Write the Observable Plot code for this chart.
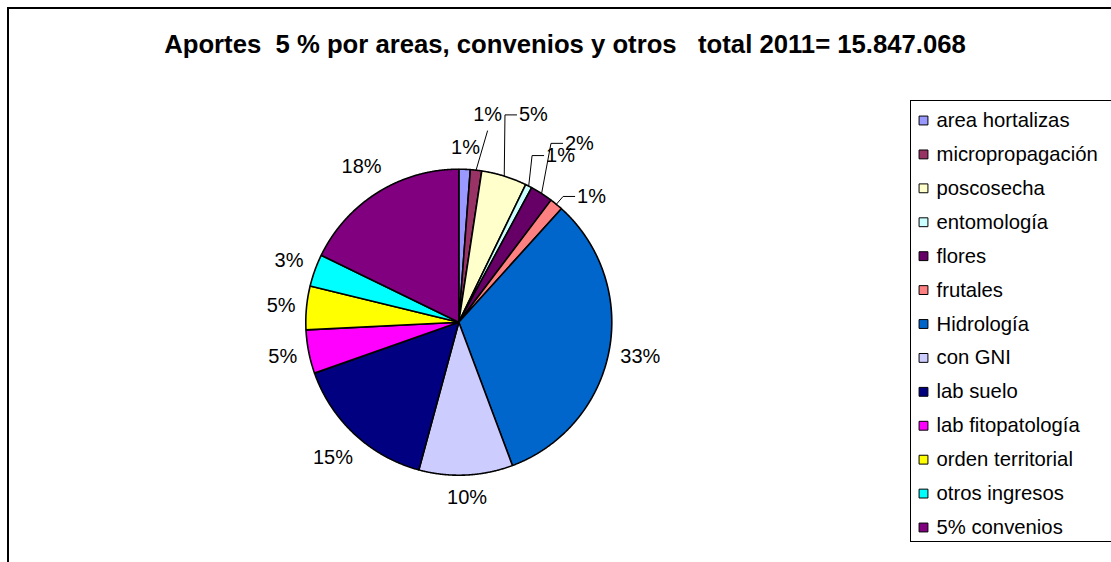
<!DOCTYPE html>
<html>
<head>
<meta charset="utf-8">
<script src="https://cdn.jsdelivr.net/npm/d3@7"></script>
<script src="https://cdn.jsdelivr.net/npm/@observablehq/plot@0.6"></script>
<style>
  html, body { margin: 0; padding: 0; background: #fff; }
  #page { position: relative; width: 1111px; height: 562px; overflow: hidden; font-family: "Liberation Sans", Arial, sans-serif; }
  #frame { position: absolute; left: 7px; top: 7px; width: 1300px; height: 800px; border-left: 2px solid #000; border-top: 2px solid #000; }
  #title { position: absolute; left: 0; top: 32px; width: 1130px; text-align: center; font-size: 25.7px; line-height: 25px; font-weight: bold; color: #000; white-space: pre; }
  #pie { position: absolute; left: 0; top: 0; }
  #legend { position: absolute; left: 910px; top: 100px; width: 240px; height: 440px; border: 1px solid #000; background: #fff; }
  #legend svg { position: absolute; left: 0; top: 0; }
</style>
</head>
<body>
<div id="page">
  <div id="frame"></div>
  <div id="pie"></div>
  <div id="title">Aportes  5 % por areas, convenios y otros   total 2011= 15.847.068</div>
  <div id="legend"></div>
</div>
<script>
// ---- data ----
const categories = ["area hortalizas", "micropropagación", "poscosecha", "entomología", "flores", "frutales", "Hidrología", "con GNI", "lab suelo", "lab fitopatología", "orden territorial", "otros ingresos", "5% convenios"];
const shares = [1.2, 1.2, 4.8, 0.7, 2.4, 1.4, 32.6, 9.9, 15.4, 4.6, 4.6, 3.4, 17.8];
const colors = ["#9999FF", "#993366", "#FFFFCC", "#CCFFFF", "#660066", "#FF8080", "#0066CC", "#CCCCFF", "#000080", "#FF00FF", "#FFFF00", "#00FFFF", "#800080"];
const titleText = "Aportes  5 % por areas, convenios y otros   total 2011= 15.847.068";

// ---- layout config (not data) ----
const W = 1111, H = 562;
const CX = 458.3, CY = 321.7, R = 153;      // pie centre and radius in px
const FONT = "Liberation Sans, Arial, sans-serif";
const LABEL_SIZE = 20;
// labels that Excel moved by hand: polar position (deg clockwise from 12 o'clock, radius factor)
const manualLabels = {
  "area hortalizas": {angle: 2.2, radius: 1.145, leader: "none"},
  "micropropagación": {angle: 7.9, radius: 1.37, leader: "below"},
  "poscosecha": {angle: 19.8, radius: 1.44, leader: "elbow"},
  "entomología": {angle: 31.4, radius: 1.276, leader: "elbow"},
  "flores": {angle: 34.0, radius: 1.41, leader: "elbow"},
  "frutales": {angle: 46.55, radius: 1.195, leader: "elbow"}
};

document.getElementById("title").textContent = titleText;

const rows = categories.map((c, i) => ({category: c, value: shares[i]}));
const total = d3.sum(rows, d => d.value);
const arcs = d3.pie().sort(null).value(d => d.value)(rows);
const fmt = d3.format(".0%");
const textW = s => (s.replace("%", "").length * 0.556 + 0.889) * LABEL_SIZE;

// slice outlines in unit coordinates (radius 1, y up)
const slicePts = [];
for (const a of arcs) {
  const c = a.data.category;
  const n = Math.max(2, Math.ceil((a.endAngle - a.startAngle) / 0.005));
  slicePts.push({category: c, u: 0, v: 0});
  for (let k = 0; k <= n; k++) {
    const t = a.startAngle + (a.endAngle - a.startAngle) * k / n;
    slicePts.push({category: c, u: Math.sin(t), v: Math.cos(t)});
  }
  slicePts.push({category: c, u: 0, v: 0});
}

// labels and leader lines
const labels = [];
const leaders = [];
for (const a of arcs) {
  const c = a.data.category;
  const text = fmt(a.data.value / total);
  const w = textW(text);
  const m = (a.startAngle + a.endAngle) / 2;
  const man = manualLabels[c];
  let u, v;
  if (man) {
    const ang = man.angle * Math.PI / 180;
    u = Math.sin(ang) * man.radius; v = Math.cos(ang) * man.radius;
    const ax = Math.sin(m), ay = Math.cos(m);
    if (man.leader === "elbow") {
      leaders.push({id: c, u: ax, v: ay});
      leaders.push({id: c, u: u - (w / 2 + 14) / R, v});
      leaders.push({id: c, u: u - (w / 2 + 2) / R, v});
    } else if (man.leader === "below") {
      leaders.push({id: c, u: ax, v: ay});
      leaders.push({id: c, u, v: v - 16 / R});
    }
  } else {
    const h = 23, pad = 10;
    const s = Math.abs(Math.sin(m)) * w / 2 + Math.abs(Math.cos(m)) * h / 2;
    const D = R + pad + s;
    u = Math.sin(m) * D / R; v = Math.cos(m) * D / R;
  }
  labels.push({category: c, text, u, v});
}

const pie = Plot.plot({
  width: W, height: H, margin: 0,
  x: {domain: [-CX / R, (W - CX) / R], axis: null},
  y: {domain: [-(H - CY) / R, CY / R], axis: null},
  color: {domain: categories, range: colors},
  style: {background: "transparent", fontFamily: FONT},
  marks: [
    Plot.line(slicePts, {x: "u", y: "v", z: "category", fill: "category", stroke: "#000", strokeWidth: 1.6, strokeLinejoin: "miter", curve: "linear"}),
    Plot.line(leaders, {x: "u", y: "v", z: "id", stroke: "#000", strokeWidth: 1, strokeLinejoin: "miter", strokeLinecap: "butt"}),
    Plot.text(labels, {x: "u", y: "v", text: "text", fontSize: LABEL_SIZE, fill: "#000", fontFamily: FONT})
  ]
});
document.getElementById("pie").appendChild(pie);

const legendRows = categories.map((c, i) => ({category: c, index: i}));
const legend = Plot.plot({
  width: 240, height: 440, margin: 0,
  x: {domain: [0, 1], axis: null},
  y: {type: "linear", domain: [0, categories.length - 1], range: [19, 426], axis: null},
  color: {domain: categories, range: colors},
  style: {background: "transparent", fontFamily: FONT},
  marks: [
    Plot.dot(legendRows, {y: "index", frameAnchor: "left", dx: 12, symbol: "square", r: 5, fill: "category", stroke: "#000", strokeWidth: 1}),
    Plot.text(legendRows, {y: "index", text: "category", frameAnchor: "left", dx: 25, textAnchor: "start", fontSize: 20.3, fill: "#000", fontFamily: FONT})
  ]
});
document.getElementById("legend").appendChild(legend);
</script>
</body>
</html>
